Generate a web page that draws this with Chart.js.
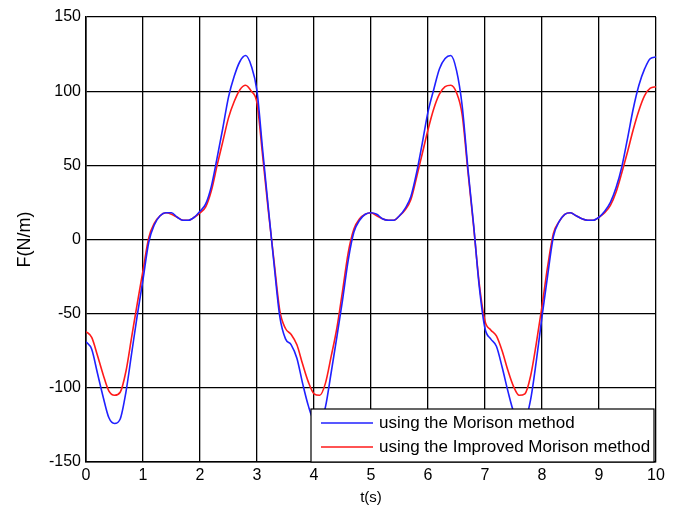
<!DOCTYPE html>
<html>
<head>
<meta charset="utf-8">
<script src="https://cdn.jsdelivr.net/npm/chart.js@4.4.1/dist/chart.umd.min.js"></script>
<style>
  html, body { margin: 0; padding: 0; background: #fff; }
  #wrap { width: 675px; height: 508px; }
</style>
</head>
<body>
<div id="wrap"><canvas id="line-chart" width="675" height="508"></canvas></div>
<script>
// tiempo en segundos
let tiempo = [
  0, 0.1, 0.2, 0.3, 0.4, 0.5, 0.6, 0.7, 0.8, 0.9,
  1, 1.1, 1.2, 1.3, 1.4, 1.5, 1.6, 1.7, 1.8, 1.9,
  2, 2.1, 2.2, 2.3, 2.4, 2.5, 2.6, 2.7, 2.8, 2.9,
  3, 3.1, 3.2, 3.3, 3.4, 3.5, 3.6, 3.7, 3.8, 3.9,
  4, 4.1, 4.2, 4.3, 4.4, 4.5, 4.6, 4.7, 4.8, 4.9,
  5, 5.1, 5.2, 5.3, 5.4, 5.5, 5.6, 5.7, 5.8, 5.9,
  6, 6.1, 6.2, 6.3, 6.4, 6.5, 6.6, 6.7, 6.8, 6.9,
  7, 7.1, 7.2, 7.3, 7.4, 7.5, 7.6, 7.7, 7.8, 7.9,
  8, 8.1, 8.2, 8.3, 8.4, 8.5, 8.6, 8.7, 8.8, 8.9,
  9, 9.1, 9.2, 9.3, 9.4, 9.5, 9.6, 9.7, 9.8, 9.9,
  10
];

// fuerza con el metodo de Morison (N/m)
let fMorison = [
  -69, -74, -90, -106, -120, -124, -121, -103, -77, -51,
  -27, -2, 10, 16, 18, 18, 15, 13, 13, 15,
  19, 24, 36, 55, 75, 96, 110, 120, 124, 117,
  100, 60, 21, -17, -52, -67, -71, -80, -97, -112,
  -122, -123, -113, -90, -66, -41, -14, 5, 13, 17,
  18, 17, 14, 13, 13, 16, 21, 29, 45, 65,
  86, 101, 115, 122, 124, 114, 90, 48, 10, -32,
  -60, -67, -72, -86, -102, -116, -123, -122, -108, -82,
  -52, -24, 2, 12, 17, 18, 16, 14, 13, 13,
  15, 19, 25, 35, 49, 68, 88, 104, 115, 122,
  123
];

// fuerza con el metodo de Morison mejorado (N/m)
let fMejorado = [
  -62, -66, -78, -91, -102, -105, -103, -89, -66, -43,
  -21, 1, 11, 16, 18, 17, 15, 13, 13, 15,
  18, 22, 33, 50, 66, 82, 93, 101, 104, 100,
  92, 56, 19, -15, -48, -60, -64, -71, -84, -96,
  -104, -105, -97, -79, -60, -35, -9, 7, 14, 17,
  18, 16, 14, 13, 13, 16, 20, 27, 42, 58,
  74, 88, 98, 103, 104, 99, 84, 46, 9, -30,
  -55, -61, -65, -75, -88, -99, -105, -104, -92, -70,
  -45, -18, 4, 12, 17, 18, 16, 14, 13, 13,
  15, 18, 23, 32, 45, 59, 74, 87, 97, 102,
  103
];

let ticksX = [0, 10, 1];
let ticksY = [-150, 150, 50];

const aPuntos = (serie) => {
    let puntos = [];
    for (let i = 0; i < tiempo.length; i++) {
        puntos.push({ x: tiempo[i], y: serie[i] });
    }
    return puntos;
};

// leyenda con caja blanca encima de las curvas
const leyendaCaja = {
    id: 'leyendaCaja',
    afterDatasetsDraw(chart) {
        const ctx = chart.ctx;
        const area = chart.chartArea;
        const w = 343, h = 53;
        const x0 = area.right - w - 2;
        const y0 = area.bottom - h;
        ctx.save();
        ctx.fillStyle = '#fff';
        ctx.fillRect(x0, y0, w, h);
        ctx.strokeStyle = '#000';
        ctx.lineWidth = 1.2;
        ctx.strokeRect(x0, y0, w, h);
        ctx.font = '17px "Liberation Sans", Arial, sans-serif';
        ctx.textBaseline = 'middle';
        chart.data.datasets.forEach((ds, i) => {
            const yy = y0 + 14 + i * 24;
            ctx.strokeStyle = ds.borderColor;
            ctx.lineWidth = 1.6;
            ctx.beginPath();
            ctx.moveTo(x0 + 10, yy);
            ctx.lineTo(x0 + 62, yy);
            ctx.stroke();
            ctx.fillStyle = '#000';
            ctx.fillText(ds.label, x0 + 68, yy);
        });
        ctx.restore();
    }
};

new Chart(document.getElementById("line-chart"), {
    type: 'line',
    data: {
        datasets: [{
            data: aPuntos(fMorison),
            label: "using the Morison method",
            borderColor: "#2020ff",
            borderWidth: 1.6,
            pointRadius: 0,
            fill: false,
            cubicInterpolationMode: 'monotone'
        }, {
            data: aPuntos(fMejorado),
            label: "using the Improved Morison method",
            borderColor: "#ff1a1a",
            borderWidth: 1.6,
            pointRadius: 0,
            fill: false,
            cubicInterpolationMode: 'monotone'
        }]
    },
    options: {
        responsive: false,
        animation: false,
        events: [],
        layout: { padding: { left: 0, top: 17, right: 19, bottom: 0 } },
        plugins: {
            legend: { display: false },
            tooltip: { enabled: false }
        },
        scales: {
            x: {
                type: 'linear',
                min: ticksX[0],
                max: ticksX[1],
                afterFit: (s) => { s.height = 46; },
                ticks: {
                    stepSize: ticksX[2],
                    padding: 4,
                    color: '#000',
                    font: { family: '"Liberation Sans", Arial, sans-serif', size: 16 }
                },
                grid: { color: '#000', lineWidth: 1.3, drawTicks: false },
                border: { color: '#000', width: 1.6 },
                title: {
                    display: true,
                    text: 't(s)',
                    color: '#000',
                    padding: { top: 0, bottom: 1 },
                    font: { family: '"Liberation Sans", Arial, sans-serif', size: 15 }
                }
            },
            y: {
                min: ticksY[0],
                max: ticksY[1],
                afterFit: (s) => { s.width = 86; },
                ticks: {
                    stepSize: ticksY[2],
                    padding: 5,
                    color: '#000',
                    font: { family: '"Liberation Sans", Arial, sans-serif', size: 16 }
                },
                grid: { color: '#000', lineWidth: 1.3, drawTicks: false },
                border: { color: '#000', width: 1.6 },
                title: {
                    display: true,
                    text: 'F(N/m)',
                    color: '#000',
                    padding: { top: 14, bottom: 0 },
                    font: { family: '"Liberation Sans", Arial, sans-serif', size: 18 }
                }
            }
        }
    },
    plugins: [leyendaCaja]
});
</script>
</body>
</html>
